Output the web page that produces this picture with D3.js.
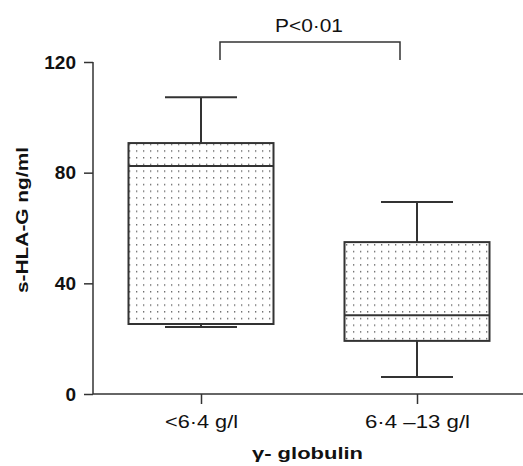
<!DOCTYPE html>
<html>
<head>
<meta charset="utf-8">
<script src="https://cdn.jsdelivr.net/npm/d3@7"></script>
<style>
  html, body { margin: 0; padding: 0; background: #fff; }
  svg { display: block; }
</style>
</head>
<body>
<div id="chart"></div>
<script>
// box plot: s-HLA-G by gamma globulin group
const groups  = ['<6·4 g/l', '6·4 –13 g/l'];
const mins    = [24.2, 6.1];
const q1s     = [25.3, 19.2];
const medians = [82.4, 28.5];
const q3s     = [90.7, 54.9];
const maxs    = [107.3, 69.4];
const yTicks  = [0, 40, 80, 120];

const W = 523, H = 466;
const INK = '#333';
const FONT = 'Liberation Sans, Arial, Helvetica, sans-serif';

const svg = d3.select('#chart').append('svg')
  .attr('width', W).attr('height', H)
  .style('font-family', FONT);

// dotted fill
const pat = svg.append('defs').append('pattern')
  .attr('id', 'dots')
  .attr('patternUnits', 'userSpaceOnUse')
  .attr('width', 7).attr('height', 6.7);
pat.append('rect').attr('width', 7).attr('height', 6.7).attr('fill', '#fff');
pat.append('rect').attr('x', 3).attr('y', 3).attr('width', 1.3).attr('height', 1.3).attr('fill', '#555');

const x = d3.scalePoint()
  .domain(groups)
  .range([93, 525])
  .padding(0.5);

const y = d3.scaleLinear()
  .domain([0, 120])
  .range([394, 62]);

const boxes = groups.map((g, i) => ({
  g, min: mins[i], q1: q1s[i], med: medians[i], q3: q3s[i], max: maxs[i]
}));

const boxHalf = 72.5, capHalf = 36;
// the source text is set wider than our fonts, so stretch to measured widths
const tickWidths = [73, 105];

// axes
svg.append('g')
  .attr('transform', `translate(0,${y(0)})`)
  .call(d3.axisBottom(x).tickSize(10).tickPadding(24))
  .call(ax => ax.select('.domain').attr('stroke', INK).attr('stroke-width', 1.5).attr('d', `M93,0H${W}`))
  .call(ax => ax.selectAll('line').attr('stroke', INK).attr('stroke-width', 1.5))
  .call(ax => ax.selectAll('text')
    .attr('dy', null)
    .attr('font-size', 18).attr('fill', '#111').attr('font-family', FONT)
    .attr('x', (d, i) => -tickWidths[i] / 2)
    .attr('text-anchor', 'start')
    .attr('textLength', (d, i) => tickWidths[i])
    .attr('lengthAdjust', 'spacingAndGlyphs'));

svg.append('g')
  .attr('transform', 'translate(93,0)')
  .call(d3.axisLeft(y).tickValues(yTicks).tickSize(9).tickPadding(8))
  .call(ax => ax.select('.domain').attr('stroke', INK).attr('stroke-width', 1.5).attr('d', `M0,${y(0)}V${y(120)}`))
  .call(ax => ax.selectAll('line').attr('stroke', INK).attr('stroke-width', 1.5))
  .call(ax => ax.selectAll('text').attr('font-size', 19).attr('font-weight', 'bold').attr('fill', '#111').attr('font-family', FONT));

// whiskers
const bg = svg.append('g').attr('stroke', INK).attr('stroke-width', 2);
bg.selectAll('.wh')
  .data(boxes)
  .join('line')
  .attr('x1', d => x(d.g)).attr('x2', d => x(d.g))
  .attr('y1', d => y(d.min)).attr('y2', d => y(d.max));
bg.selectAll('.capt')
  .data(boxes)
  .join('line')
  .attr('x1', d => x(d.g) - capHalf).attr('x2', d => x(d.g) + capHalf)
  .attr('y1', d => y(d.max)).attr('y2', d => y(d.max));
bg.selectAll('.capb')
  .data(boxes)
  .join('line')
  .attr('x1', d => x(d.g) - capHalf).attr('x2', d => x(d.g) + capHalf)
  .attr('y1', d => y(d.min)).attr('y2', d => y(d.min));

// boxes
bg.selectAll('rect')
  .data(boxes)
  .join('rect')
  .attr('x', d => x(d.g) - boxHalf)
  .attr('width', boxHalf * 2)
  .attr('y', d => y(d.q3))
  .attr('height', d => y(d.q1) - y(d.q3))
  .attr('fill', 'url(#dots)');

// medians
bg.selectAll('.med')
  .data(boxes)
  .join('line')
  .attr('x1', d => x(d.g) - boxHalf).attr('x2', d => x(d.g) + boxHalf)
  .attr('y1', d => y(d.med)).attr('y2', d => y(d.med));

// significance bracket
const bx0 = x(groups[0]) + 19, bx1 = x(groups[1]) - 17;
svg.append('path')
  .attr('d', `M${bx0},60V42H${bx1}V60`)
  .attr('fill', 'none').attr('stroke', INK).attr('stroke-width', 1.5);
svg.append('text')
  .attr('x', 275).attr('y', 32)
  .attr('font-size', 19).attr('fill', '#111')
  .attr('textLength', 68).attr('lengthAdjust', 'spacingAndGlyphs')
  .text('P<0·01');

// axis titles
svg.append('text')
  .attr('x', 252).attr('y', 459)
  .attr('font-size', 17).attr('font-weight', 'bold').attr('fill', '#111')
  .attr('textLength', 111).attr('lengthAdjust', 'spacingAndGlyphs')
  .text('γ- globulin');

svg.append('text')
  .attr('transform', 'rotate(-90)')
  .attr('x', -293).attr('y', 28)
  .attr('font-size', 17).attr('font-weight', 'bold').attr('fill', '#111')
  .attr('textLength', 146).attr('lengthAdjust', 'spacingAndGlyphs')
  .text('s-HLA-G ng/ml');
</script>
</body>
</html>
